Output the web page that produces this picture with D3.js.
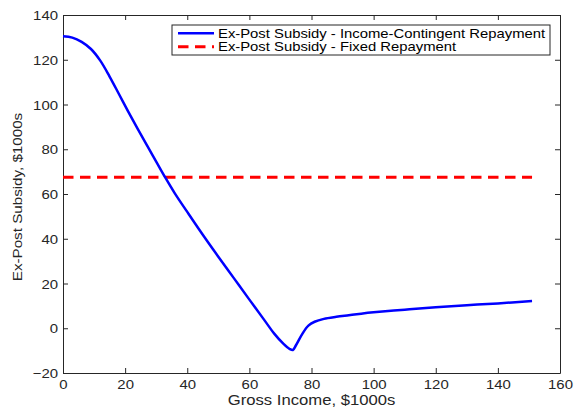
<!DOCTYPE html>
<html>
<head>
<meta charset="utf-8">
<script src="https://cdn.jsdelivr.net/npm/d3@7/dist/d3.min.js"></script>
<style>
  html, body { margin: 0; padding: 0; background: #fff; }
  svg { display: block; font-family: "Liberation Sans", Arial, Helvetica, sans-serif; }
</style>
</head>
<body>
<svg id="chart" width="576" height="407"></svg>
<script>
// Gross income, $1000s
const income = [0, 3, 6, 9, 12, 15, 18, 21, 24, 27, 30, 33, 36, 40, 45, 50, 55, 60, 65,
  68, 71, 73, 74, 75, 77, 79, 81, 84, 88, 92, 96, 100, 110, 120, 130, 140, 151];
// Ex-post subsidy under income-contingent repayment, $1000s
const icrSubsidy = [130.5, 129.9, 128.0, 124.8, 119.6, 112.5, 104.7, 96.8, 89.2, 81.8, 74.5, 67.2, 60.3, 52.0, 41.8, 32.0, 22.4, 12.8, 3.3,
  -2.4, -7.0, -9.3, -9.7, -7.6, -2.6, 1.2, 2.9, 4.2, 5.1, 5.8, 6.5, 7.1, 8.3, 9.4, 10.3, 11.1, 12.2];
// Ex-post subsidy under fixed repayment (constant), $1000s
const fixedSubsidy = 67.5;
const fixedRange = [0, 151];

const xTicks = [0, 20, 40, 60, 80, 100, 120, 140, 160];
const yTicks = [-20, 0, 20, 40, 60, 80, 100, 120, 140];
const seriesNames = ["Ex-Post Subsidy - Income-Contingent Repayment", "Ex-Post Subsidy - Fixed Repayment"];
const xLabel = "Gross Income, $1000s";
const yLabel = "Ex-Post Subsidy, $1000s";

const svg = d3.select("#chart");
const margin = { left: 63, right: 16, top: 15, bottom: 34 };
const W = 576, H = 407;
const x = d3.scaleLinear().domain([0, 160]).range([margin.left, W - margin.right]);
const y = d3.scaleLinear().domain([-20, 140]).range([H - margin.bottom, margin.top]);

const axisColor = "#262626";
const tickLen = 5;
const wide = 1.15;   // horizontal stretch applied to all glyphs

// axes: inward ticks on all four sides
const gB = svg.append("g").attr("transform", `translate(0,${y(-20)})`)
  .call(d3.axisBottom(x).tickValues(xTicks).tickSizeInner(-tickLen).tickSizeOuter(0));
const gT = svg.append("g").attr("transform", `translate(0,${y(140)})`)
  .call(d3.axisTop(x).tickValues(xTicks).tickSizeInner(-tickLen).tickSizeOuter(0).tickFormat(""));
const gL = svg.append("g").attr("transform", `translate(${x(0)},0)`)
  .call(d3.axisLeft(y).tickValues(yTicks).tickSizeInner(-tickLen).tickSizeOuter(0));
const gR = svg.append("g").attr("transform", `translate(${x(160)},0)`)
  .call(d3.axisRight(y).tickValues(yTicks).tickSizeInner(-tickLen).tickSizeOuter(0).tickFormat(""));

[gB, gT, gL, gR].forEach(g => {
  g.select(".domain").attr("stroke", axisColor).attr("stroke-width", 1);
  g.selectAll(".tick line").attr("stroke", axisColor).attr("stroke-width", 1);
  g.selectAll(".tick text").attr("fill", axisColor).attr("font-size", 13)
    .attr("font-family", "'Liberation Sans', Arial, sans-serif");
});
gB.selectAll(".tick text").attr("y", 0).attr("dy", 0)
  .attr("transform", `translate(0,15.5) scale(${wide},1)`);
gL.selectAll(".tick text").attr("x", 0).attr("dy", "0.36em")
  .attr("transform", `translate(-5,0) scale(${wide},1)`);

// data lines
const pts = income.map((v, i) => [v, icrSubsidy[i]]);
const line = d3.line().x(d => x(d[0])).y(d => y(d[1])).curve(d3.curveCatmullRom.alpha(0.5));

svg.append("path")
  .datum(fixedRange.map(v => [v, fixedSubsidy]))
  .attr("d", d3.line().x(d => x(d[0])).y(d => y(d[1])))
  .attr("fill", "none").attr("stroke", "#ff0000").attr("stroke-width", 3)
  .attr("stroke-dasharray", "10.5,6.5");

svg.append("path")
  .datum(pts)
  .attr("d", line)
  .attr("fill", "none").attr("stroke", "#0000ff").attr("stroke-width", 2.5)
  .attr("stroke-linejoin", "round");

// axis titles
svg.append("text")
  .attr("transform", `translate(${(x(0) + x(160)) / 2},404.5) scale(${wide},1)`)
  .attr("text-anchor", "middle").attr("fill", axisColor)
  .attr("font-size", 14.5).text(xLabel);
svg.append("text")
  .attr("transform", `translate(21.5,${(y(-20) + y(140)) / 2 + 3}) rotate(-90) scale(${wide},1)`)
  .attr("text-anchor", "middle").attr("fill", axisColor)
  .attr("font-size", 13.2).text(yLabel);

// legend
const lg = svg.append("g").attr("transform", "translate(172,25)");
lg.append("rect").attr("width", 378).attr("height", 30)
  .attr("fill", "#fff").attr("stroke", axisColor).attr("stroke-width", 1);
const legendItems = [
  { name: seriesNames[0], color: "#0000ff", dash: null, w: 2.5 },
  { name: seriesNames[1], color: "#ff0000", dash: "10.5,6.5", w: 3 }
];
legendItems.forEach((it, i) => {
  const cy = 8.3 + i * 13.4;
  lg.append("line").attr("x1", 6).attr("x2", 42).attr("y1", cy).attr("y2", cy)
    .attr("stroke", it.color).attr("stroke-width", it.w)
    .attr("stroke-dasharray", it.dash);
  lg.append("text").attr("transform", `translate(46,${cy}) scale(${wide},1)`)
    .attr("dy", "0.36em").attr("fill", "#000").attr("font-size", 12.9).text(it.name);
});
</script>
</body>
</html>
